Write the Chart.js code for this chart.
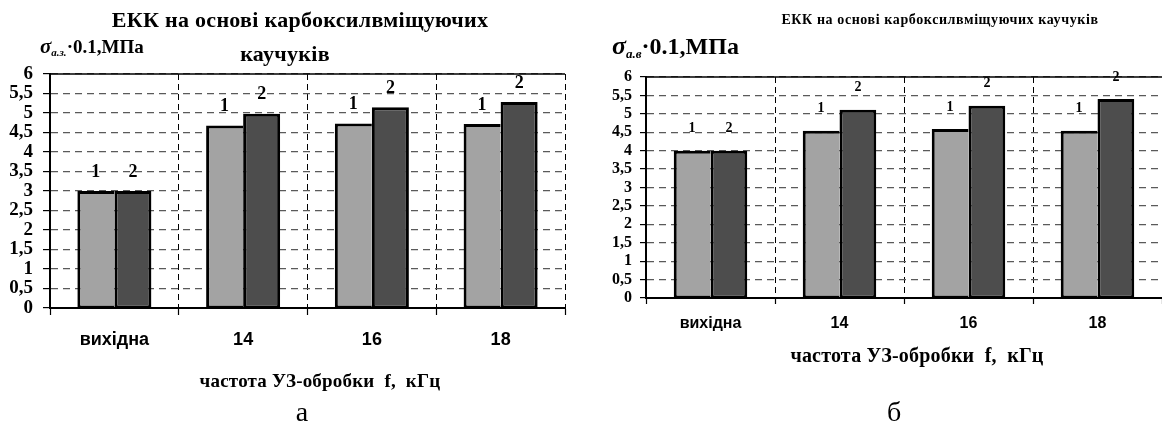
<!DOCTYPE html>
<html><head><meta charset="utf-8">
<script src="https://cdn.jsdelivr.net/npm/chart.js@4.4.0/dist/chart.umd.min.js"></script>
<style>
html,body{margin:0;padding:0;background:#fff;width:1162px;height:427px;overflow:hidden;position:relative;}
.t{position:absolute;white-space:nowrap;transform:translate(-50%,-50%);font-family:"Liberation Serif","Times New Roman",serif;font-weight:bold;color:#000;line-height:1;}
.l{transform:translate(0,-50%);}
.n{font-weight:normal;}
canvas{position:absolute;top:0;}
</style></head><body>
<canvas id="cA" width="580" height="427" style="left:0;width:580px;height:427px"></canvas>
<canvas id="cB" width="582" height="427" style="left:580px;width:582px;height:427px"></canvas>

<div class="t" style="left:300px;top:20px;font-size:22px;letter-spacing:0.3px">ЕКК на основі карбоксилвміщуючих</div>
<div class="t" style="left:285px;top:54px;font-size:22px;letter-spacing:0.3px">каучуків</div>
<div class="t l" style="left:40px;top:46px;font-size:19px"><span style="font-style:italic;font-size:21px">σ</span><span style="font-style:italic;font-size:11px;position:relative;top:3px">а.з.</span>·0.1,МПа</div>
<div class="t" style="left:320px;top:380px;font-size:19px;letter-spacing:0.2px">частота УЗ-обробки&nbsp; f,&nbsp; кГц</div>
<div class="t n" style="left:302px;top:412px;font-size:28px">а</div>

<div class="t" style="left:940px;top:20px;font-size:14px;letter-spacing:0.6px">ЕКК на основі карбоксилвміщуючих каучуків</div>
<div class="t l" style="left:612px;top:46px;font-size:24px"><span style="font-style:italic;font-size:26px">σ</span><span style="font-style:italic;font-size:13px;position:relative;top:4px">а.в</span>·0.1,МПа</div>
<div class="t" style="left:917px;top:355px;font-size:20px;letter-spacing:0.2px">частота УЗ-обробки&nbsp; f,&nbsp; кГц</div>
<div class="t n" style="left:894px;top:412px;font-size:28px">б</div>

<script>
// ---- data ----
const categories = ['вихідна', '14', '16', '18'];
const seriesNames = ['1', '2'];
// chart а: σ а.з. · 0.1 МПа
const sigmaAZ_1 = [3.0, 4.68, 4.73, 4.72];
const sigmaAZ_2 = [3.0, 4.98, 5.15, 5.28];
// chart б: σ а.в · 0.1 МПа
const sigmaAV_1 = [4.0, 4.54, 4.59, 4.54];
const sigmaAV_2 = [4.0, 5.11, 5.22, 5.40];
const yMin = 0, yMax = 6, yStep = 0.5;

const SERIF = '"Liberation Serif","Times New Roman",serif';
const SANS = '"Liberation Sans",Arial,sans-serif';

function makeChart(id, d1, d2, o) {
  const labelPlugin = {
    id: 'barNums',
    beforeDatasetsDraw(chart) {
      const {ctx, chartArea: a} = chart;
      ctx.save();
      ctx.strokeStyle = '#000';
      ctx.lineWidth = 1.5;
      ctx.beginPath();
      ctx.moveTo(a.left, a.top); ctx.lineTo(a.right, a.top);
      ctx.stroke();
      ctx.restore();
    },
    afterDatasetsDraw(chart) {
      const ctx = chart.ctx;
      ctx.save();
      ctx.font = 'bold ' + o.numFont + 'px ' + SERIF;
      ctx.fillStyle = '#000';
      ctx.textAlign = 'center';
      ctx.textBaseline = 'middle';
      chart.data.datasets.forEach((ds, di) => {
        chart.getDatasetMeta(di).data.forEach(el => {
          ctx.fillText(seriesNames[di], el.x, el.y - o.numOff);
        });
      });
      ctx.restore();
    }
  };
  return new Chart(document.getElementById(id), {
    type: 'bar',
    data: {
      labels: categories,
      datasets: [
        {data: d1, backgroundColor: '#a3a3a3', borderColor: '#000',
         borderWidth: {top: 3, left: 3, right: 0, bottom: 2}, borderSkipped: false,
         categoryPercentage: o.cat, barPercentage: 1},
        {data: d2, backgroundColor: '#4d4d4d', borderColor: '#000',
         borderWidth: {top: 3, left: 3, right: 3, bottom: 2}, borderSkipped: false,
         categoryPercentage: o.cat, barPercentage: 1}
      ]
    },
    options: {
      responsive: false, animation: false,
      layout: {padding: {top: o.top, left: 0, right: o.right, bottom: 0}},
      plugins: {legend: {display: false}, tooltip: {enabled: false}, title: {display: false}},
      scales: {
        x: {
          grid: {offset: true, color: '#000', lineWidth: 1, tickLength: o.xTick, tickColor: '#000', tickWidth: 1.2},
          border: {display: true, color: '#000', width: 2, dash: [6, 4]},
          ticks: {color: '#000', font: {family: SANS, weight: 'bold', size: o.xFont}, padding: o.xPad, maxRotation: 0},
          afterFit: s => { s.height = o.xH; }
        },
        y: {
          min: yMin, max: yMax,
          grid: {color: '#5a5a5a', lineWidth: 1.2, tickLength: o.yTick, tickColor: '#000', tickWidth: 1.2},
          border: {display: true, color: '#000', width: 2, dash: [7, 5]},
          ticks: {stepSize: yStep, autoSkip: false, color: '#000', font: {family: SERIF, weight: 'bold', size: o.yFont, lineHeight: 1}, padding: o.yPad,
                  callback: v => String(v).replace('.', ',')},
          afterFit: s => { s.width = o.yW; }
        }
      }
    },
    plugins: [labelPlugin]
  });
}

makeChart('cA', sigmaAZ_1, sigmaAZ_2, {cat: 0.575, top: 74, right: 15, xH: 119, yW: 50,
  xTick: 7, yTick: 7, xPad: 14, yPad: 10, xFont: 18, yFont: 19, numFont: 18, numOff: 19});
makeChart('cB', sigmaAV_1, sigmaAV_2, {cat: 0.57, top: 77, right: 0, xH: 129, yW: 66,
  xTick: 6, yTick: 6, xPad: 10, yPad: 8, xFont: 16, yFont: 16, numFont: 14, numOff: 22});
</script>
</body></html>
